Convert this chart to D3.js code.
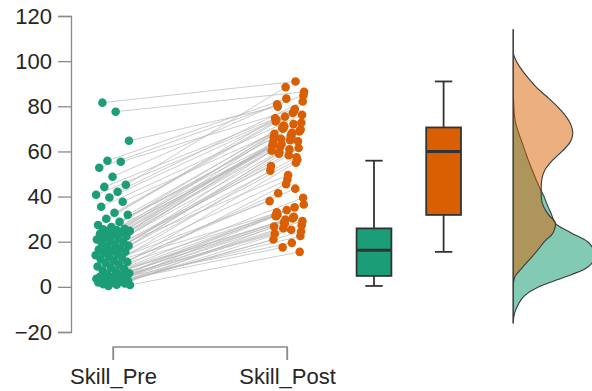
<!DOCTYPE html>
<html><head><meta charset="utf-8">
<script src="https://cdn.jsdelivr.net/npm/d3@7"></script>
<style>body{margin:0;background:#fff}</style>
</head><body><svg id="c" width="592" height="391"></svg>
<script>
const categories = ["Skill_Pre", "Skill_Post"];
const yTicks = [-20, 0, 20, 40, 60, 80, 100, 120];
// paired observations (same subject = same index)
const skillPre = [
  0.4, 0.8, 1.0, 1.2, 1.5, 1.8, 2.0, 2.2, 2.5, 2.7,
  3.0, 3.1, 3.3, 3.5, 3.6, 3.8, 4.0, 4.1, 4.2, 4.4,
  5.0, 5.5, 6.0, 6.8, 7.2, 7.9, 8.5, 9.0, 9.8, 10.5,
  11.0, 11.6, 12.2, 12.8, 13.5, 14.0, 14.6, 15.1, 15.6, 16.0,
  16.5, 17.0, 17.6, 18.2, 18.7, 19.3, 19.8, 20.4, 21.0, 21.5,
  22.0, 22.6, 23.0, 23.5, 24.0, 24.4, 24.8, 25.2, 25.5, 25.7,
  26.5, 27.4, 28.8, 30.2, 31.9, 32.8, 35.5, 37.7, 39.6, 40.8,
  42.1, 44.3, 45.2, 48.8, 52.8, 55.4, 55.9, 64.7, 77.6, 81.6
];
const skillPost = [
  21, 15.5, 25.3, 17.5, 26.7, 22.5, 19.5, 26, 23.5, 24.5,
  30.3, 28.6, 31.5, 27.3, 30.7, 28, 31.3, 29.2, 31, 29.8,
  33, 39.5, 35.2, 45.5, 32, 36.5, 43.5, 34, 41.5, 38,
  55, 47.5, 59, 51.5, 57.4, 49.5, 59.7, 53.5, 56.3, 58.3,
  62.1, 60.3, 64.5, 60.9, 65.6, 62.7, 61.5, 65, 63.3, 63.9,
  68.8, 67.2, 70.5, 66.1, 69.3, 66.7, 70.1, 67.8, 69.7, 68.3,
  71.5, 74.7, 72.7, 77, 71, 73.3, 76.2, 72.1, 75.4, 74,
  82.1, 77.9, 88.5, 80.9, 84.8, 78.8, 83.4, 79.8, 86.4, 91
];
// density curves (relative height, on a shared value grid)
const densityGrid = [-16, -12, -8, -4, 0, 4, 8, 12, 16, 20, 24, 28, 32, 36, 40, 44, 48, 52,
  56, 60, 64, 68, 72, 76, 80, 84, 88, 92, 96, 100, 104, 108, 112, 114];
const densityPre = [0, 0.015, 0.06, 0.14, 0.32, 0.62, 0.9, 1.0, 1.0, 0.93, 0.72, 0.53, 0.48, 0.43,
  0.385, 0.33, 0.28, 0.235, 0.19, 0.15, 0.11, 0.07, 0.035, 0.015, 0.008, 0.003, 0, 0, 0, 0, 0, 0, 0, 0];
const densityPost = [0, 0, 0, 0, 0, 0.015, 0.1, 0.2, 0.3, 0.39, 0.5, 0.53, 0.44, 0.375,
  0.35, 0.35, 0.36, 0.4, 0.49, 0.61, 0.71, 0.745, 0.72, 0.65, 0.55, 0.43, 0.3, 0.2, 0.11, 0.04, 0, 0, 0, 0];
const colors = ["#1b9e77", "#d95f02"];

const svg = d3.select("#c");
const y = d3.scaleLinear().domain([-20, 120]).range([332, 16]);
const x = d3.scaleLinear().domain([1, 2]).range([113, 287]);
const axisColor = "#8a8a8a", textColor = "#262626";
const font = "Liberation Sans, Arial, sans-serif";

// Y axis
const yAxis = d3.axisLeft(y).tickValues(yTicks).tickSize(13).tickPadding(6);
const gy = svg.append("g").attr("transform", "translate(71,0)").call(yAxis);
gy.select(".domain").attr("stroke", axisColor).attr("stroke-width", 1.3);
gy.selectAll(".tick line").attr("stroke", axisColor).attr("stroke-width", 1.3);
gy.selectAll(".tick text").attr("fill", textColor).style("font-family", font).style("font-size", "22px");

// X axis
const xb = d3.scalePoint().domain(categories).range([x(1), x(2)]);
const xAxis = d3.axisBottom(xb).tickSize(13).tickSizeOuter(0).tickPadding(8);
const gx = svg.append("g").attr("transform", "translate(0,347)").call(xAxis);
gx.select(".domain").attr("stroke", axisColor).attr("stroke-width", 1.3).attr("d", `M${x(1)},13V0H${x(2)}V13`);
gx.selectAll(".tick line").attr("stroke", axisColor).attr("stroke-width", 1.3);
gx.selectAll(".tick text").attr("fill", textColor).style("font-family", font).style("font-size", "22px");

// deterministic jitter (layout only)
const jit = i => ((i * 0.618034 + 0.37) % 1 - 0.5) * 0.2;
const jit2 = i => ((i * 0.7548777 + 0.11) % 1 - 0.5) * 0.2;

// connecting lines
svg.append("g").selectAll("line").data(skillPre).join("line")
  .attr("x1", (d, i) => x(1 + jit(i))).attr("y1", d => y(d))
  .attr("x2", (d, i) => x(2 + jit2(i))).attr("y2", (d, i) => y(skillPost[i]))
  .attr("stroke", "#b8b8b8").attr("stroke-width", 0.9).attr("stroke-opacity", 0.8);

// points
svg.append("g").selectAll("circle").data(skillPre).join("circle")
  .attr("cx", (d, i) => x(1 + jit(i))).attr("cy", d => y(d)).attr("r", 4.3)
  .attr("fill", colors[0]);
svg.append("g").selectAll("circle").data(skillPost).join("circle")
  .attr("cx", (d, i) => x(2 + jit2(i))).attr("cy", d => y(d)).attr("r", 4.3)
  .attr("fill", colors[1]);

// boxplots
function boxStats(arr) {
  const s = arr.slice().sort(d3.ascending);
  const q1 = d3.quantile(s, 0.25), med = d3.quantile(s, 0.5), q3 = d3.quantile(s, 0.75);
  const iqr = q3 - q1;
  const lo = d3.min(s.filter(v => v >= q1 - 1.5 * iqr));
  const hi = d3.max(s.filter(v => v <= q3 + 1.5 * iqr));
  return {q1, med, q3, lo, hi};
}
[[skillPre, 2.5], [skillPost, 2.9]].forEach(([arr, pos], k) => {
  const b = boxStats(arr);
  const g = svg.append("g");
  const cx = x(pos), hw = (x(2.1) - x(2)), cw = (x(2.05) - x(2));
  g.append("line").attr("x1", cx).attr("x2", cx).attr("y1", y(b.hi)).attr("y2", y(b.lo))
    .attr("stroke", "#333").attr("stroke-width", 1.8);
  [b.hi, b.lo].forEach(v => g.append("line").attr("x1", cx - cw).attr("x2", cx + cw)
    .attr("y1", y(v)).attr("y2", y(v)).attr("stroke", "#333").attr("stroke-width", 1.8));
  g.append("rect").attr("x", cx - hw).attr("width", 2 * hw).attr("y", y(b.q3)).attr("height", y(b.q1) - y(b.q3))
    .attr("fill", colors[k]).attr("stroke", "#333").attr("stroke-width", 1.8);
  g.append("line").attr("x1", cx - hw).attr("x2", cx + hw).attr("y1", y(b.med)).attr("y2", y(b.med))
    .attr("stroke", "#333").attr("stroke-width", 3);
});

// densities
const base = x(3.3);
const w = d3.scaleLinear().domain([0, 1]).range([0, 80]);
const densLine = d3.line().x(d => base + w(d[1])).y(d => y(d[0])).curve(d3.curveMonotoneY);
const densFill = ["rgba(27,158,119,0.55)", "rgba(217,95,2,0.5)"];
[densityPre, densityPost].forEach((vals, k) => {
  const pts = densityGrid.map((g, i) => [g, vals[i]]);
  svg.append("path").attr("d", densLine(pts) + "Z")
    .attr("fill", densFill[k]).attr("stroke", "#3a3a3a").attr("stroke-width", 1.1)
    .attr("stroke-linejoin", "round");
});
</script>
</body></html>
